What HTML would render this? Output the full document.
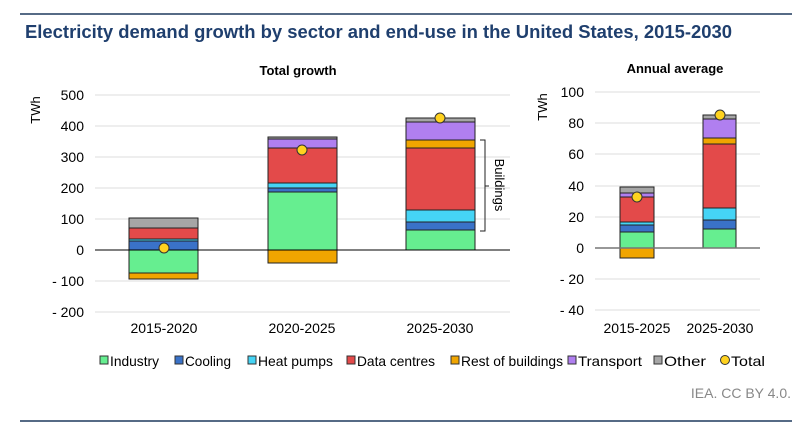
<!DOCTYPE html>
<html><head><meta charset="utf-8"><style>
body{margin:0;background:#fff;}
svg{display:block;font-family:"Liberation Sans",Arial,sans-serif;}
</style></head><body>
<svg width="807" height="431" viewBox="0 0 807 431">
<line x1="20" y1="14" x2="792" y2="14" stroke="#1f3a5f" stroke-width="1.5"/>
<text x="25" y="38" font-size="18" font-weight="bold" fill="#1f3f6e" textLength="707" lengthAdjust="spacingAndGlyphs">Electricity demand growth by sector and end-use in the United States, 2015-2030</text>
<line x1="20" y1="421" x2="792" y2="421" stroke="#1f3a5f" stroke-width="1.5"/>

<text x="298" y="75" font-size="13" font-weight="bold" text-anchor="middle">Total  growth</text>
<text x="40" y="110" font-size="13" transform="rotate(-90 40 110)" text-anchor="middle">TWh</text>
<g stroke="#dcdcdc" stroke-width="1">
<line x1="95" y1="95" x2="510" y2="95"/><line x1="95" y1="126" x2="510" y2="126"/><line x1="95" y1="157" x2="510" y2="157"/><line x1="95" y1="188" x2="510" y2="188"/><line x1="95" y1="219" x2="510" y2="219"/><line x1="95" y1="281" x2="510" y2="281"/><line x1="95" y1="312" x2="510" y2="312"/>
</g>
<g font-size="14" text-anchor="end">
<text x="84" y="100">500</text><text x="84" y="131">400</text><text x="84" y="162">300</text><text x="84" y="193">200</text><text x="84" y="224">100</text><text x="84" y="255">0</text><text x="84" y="286">- 100</text><text x="84" y="317">- 200</text>
</g>
<g stroke="#222" stroke-width="1">
<rect x="129" y="218" width="69" height="10" fill="#a6a6a6"/>
<rect x="129" y="228" width="69" height="11" fill="#e34a4a"/>
<rect x="129" y="239" width="69" height="2" fill="#45d4f5"/>
<rect x="129" y="241" width="69" height="9" fill="#3a72c8"/>
<rect x="129" y="250" width="69" height="23" fill="#66ee90"/>
<rect x="129" y="273" width="69" height="6" fill="#f0a500"/>

<rect x="268" y="137" width="69" height="2" fill="#a6a6a6"/>
<rect x="268" y="139" width="69" height="9" fill="#b07ff0"/>
<rect x="268" y="148" width="69" height="35" fill="#e34a4a"/>
<rect x="268" y="183" width="69" height="5" fill="#45d4f5"/>
<rect x="268" y="188" width="69" height="4" fill="#3a72c8"/>
<rect x="268" y="192" width="69" height="58" fill="#66ee90"/>
<rect x="268" y="250" width="69" height="13" fill="#f0a500"/>

<rect x="406" y="118" width="69" height="4" fill="#a6a6a6"/>
<rect x="406" y="122" width="69" height="18" fill="#b07ff0"/>
<rect x="406" y="140" width="69" height="8" fill="#f0a500"/>
<rect x="406" y="148" width="69" height="62" fill="#e34a4a"/>
<rect x="406" y="210" width="69" height="12" fill="#45d4f5"/>
<rect x="406" y="222" width="69" height="8" fill="#3a72c8"/>
<rect x="406" y="230" width="69" height="20" fill="#66ee90"/>
</g>
<line x1="95" y1="250" x2="510" y2="250" stroke="#000" stroke-width="1"/>
<g fill="#ffd21f" stroke="#333" stroke-width="1">
<circle cx="164" cy="248" r="5"/><circle cx="302" cy="150" r="5"/><circle cx="440" cy="118" r="5"/>
</g>
<path d="M480 140 H485 V231 H480 M485 186 H489" fill="none" stroke="#222" stroke-width="1"/>
<text x="495" y="185" font-size="13" transform="rotate(90 495 185)" text-anchor="middle">Buildings</text>
<g font-size="14" text-anchor="middle">
<text x="164" y="333">2015-2020</text><text x="302" y="333">2020-2025</text><text x="440" y="333">2025-2030</text>
</g>

<text x="675" y="73" font-size="13" font-weight="bold" text-anchor="middle">Annual average</text>
<text x="547" y="107" font-size="13" transform="rotate(-90 547 107)" text-anchor="middle">TWh</text>
<g stroke="#dcdcdc" stroke-width="1">
<line x1="595" y1="92" x2="760" y2="92"/><line x1="595" y1="123" x2="760" y2="123"/><line x1="595" y1="154" x2="760" y2="154"/><line x1="595" y1="186" x2="760" y2="186"/><line x1="595" y1="217" x2="760" y2="217"/><line x1="595" y1="279" x2="760" y2="279"/><line x1="595" y1="310" x2="760" y2="310"/>
</g>
<g font-size="14" text-anchor="end">
<text x="584" y="97">100</text><text x="584" y="128">80</text><text x="584" y="159">60</text><text x="584" y="191">40</text><text x="584" y="222">20</text><text x="584" y="253">0</text><text x="584" y="284">- 20</text><text x="584" y="315">- 40</text>
</g>
<g stroke="#222" stroke-width="1">
<rect x="620" y="187" width="34" height="6" fill="#a6a6a6"/>
<rect x="620" y="193" width="34" height="4" fill="#b07ff0"/>
<rect x="620" y="197" width="34" height="25" fill="#e34a4a"/>
<rect x="620" y="222" width="34" height="3" fill="#45d4f5"/>
<rect x="620" y="225" width="34" height="7" fill="#3a72c8"/>
<rect x="620" y="232" width="34" height="16" fill="#66ee90"/>
<rect x="620" y="248" width="34" height="10" fill="#f0a500"/>

<rect x="703" y="115" width="33" height="4" fill="#a6a6a6"/>
<rect x="703" y="119" width="33" height="19" fill="#b07ff0"/>
<rect x="703" y="138" width="33" height="6" fill="#f0a500"/>
<rect x="703" y="144" width="33" height="64" fill="#e34a4a"/>
<rect x="703" y="208" width="33" height="12" fill="#45d4f5"/>
<rect x="703" y="220" width="33" height="9" fill="#3a72c8"/>
<rect x="703" y="229" width="33" height="19" fill="#66ee90"/>
</g>
<line x1="595" y1="248" x2="760" y2="248" stroke="#777" stroke-width="1.5"/>
<g fill="#ffd21f" stroke="#333" stroke-width="1">
<circle cx="637" cy="197" r="5"/><circle cx="720" cy="115" r="5"/>
</g>
<g font-size="14" text-anchor="middle">
<text x="637" y="333">2015-2025</text><text x="720" y="333">2025-2030</text>
</g>

<g font-size="14" stroke="#333" stroke-width="1">
<rect x="100" y="356" width="8" height="8" fill="#66ee90"/>
<rect x="175" y="356" width="8" height="8" fill="#3a72c8"/>
<rect x="248" y="356" width="8" height="8" fill="#45d4f5"/>
<rect x="347" y="356" width="8" height="8" fill="#e34a4a"/>
<rect x="451" y="356" width="8" height="8" fill="#f0a500"/>
<rect x="568" y="356" width="8" height="8" fill="#b07ff0"/>
<rect x="654" y="356" width="8" height="8" fill="#a6a6a6"/>
<circle cx="725" cy="360" r="4.5" fill="#ffd21f"/>
</g>
<g font-size="14" fill="#000" lengthAdjust="spacingAndGlyphs">
<text x="110" y="366" textLength="49" lengthAdjust="spacingAndGlyphs">Industry</text>
<text x="185" y="366" textLength="46" lengthAdjust="spacingAndGlyphs">Cooling</text>
<text x="258" y="366" textLength="75" lengthAdjust="spacingAndGlyphs">Heat pumps</text>
<text x="357" y="366" textLength="78" lengthAdjust="spacingAndGlyphs">Data centres</text>
<text x="461" y="366" textLength="102" lengthAdjust="spacingAndGlyphs">Rest of buildings</text>
<text x="578" y="366" textLength="64" lengthAdjust="spacingAndGlyphs">Transport</text>
<text x="664" y="366" textLength="42" lengthAdjust="spacingAndGlyphs">Other</text>
<text x="731" y="366" textLength="34" lengthAdjust="spacingAndGlyphs">Total</text>
</g>
<text x="791" y="398" font-size="14" fill="#888" text-anchor="end">IEA. CC BY 4.0.</text>
</svg>
</body></html>
